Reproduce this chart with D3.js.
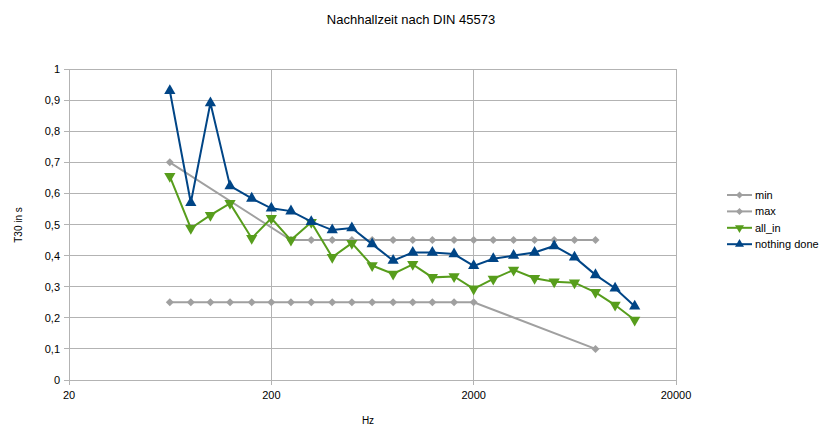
<!DOCTYPE html>
<html><head><meta charset="utf-8">
<script src="https://cdn.jsdelivr.net/npm/d3@7"></script>
<style>body{margin:0;background:#fff}svg{display:block;font-family:"Liberation Sans",Arial,sans-serif}</style>
</head><body>
<script>
const freqs = [63,80,100,125,160,200,250,315,400,500,630,800,1000,1250,1600,2000,2500,3150,4000,5000,6300,8000,10000,12500];
const minFreqs = [63,80,100,125,160,200,250,315,400,500,630,800,1000,1250,1600,2000,8000];
const minVals  = [0.25,0.25,0.25,0.25,0.25,0.25,0.25,0.25,0.25,0.25,0.25,0.25,0.25,0.25,0.25,0.25,0.1];
const maxFreqs = [63,250,315,400,500,630,800,1000,1250,1600,2000,2500,3150,4000,5000,6300,8000];
const maxVals  = [0.7,0.45,0.45,0.45,0.45,0.45,0.45,0.45,0.45,0.45,0.45,0.45,0.45,0.45,0.45,0.45,0.45];
const allIn = [0.655,0.488,0.53,0.568,0.456,0.52,0.45,0.507,0.395,0.44,0.368,0.341,0.372,0.33,0.333,0.293,0.325,0.354,0.327,0.316,0.313,0.282,0.241,0.193];
const nothingDone = [0.93,0.57,0.891,0.624,0.584,0.552,0.543,0.509,0.482,0.489,0.437,0.384,0.41,0.41,0.405,0.367,0.39,0.4,0.41,0.431,0.395,0.338,0.295,0.237];
const xTicks = [20,200,2000,20000];
const yTicks = [0,0.1,0.2,0.3,0.4,0.5,0.6,0.7,0.8,0.9,1];

const W=823,H=437;
const svg=d3.select("body").append("svg").attr("width",W).attr("height",H);
const x=d3.scaleLog().domain([20,20000]).range([69,676]);
const y=d3.scaleLinear().domain([0,1]).range([380,69]);
const grid="#b3b3b3";
const fmt=d=>String(d).replace(".",",");

// grid
svg.append("g").selectAll("line").data(yTicks).join("line")
  .attr("x1",64).attr("x2",676).attr("y1",d=>y(d)).attr("y2",d=>y(d)).attr("stroke",grid).attr("shape-rendering","crispEdges");
svg.append("g").selectAll("line").data(xTicks).join("line")
  .attr("x1",d=>x(d)).attr("x2",d=>x(d)).attr("y1",69).attr("y2",385).attr("stroke",grid).attr("shape-rendering","crispEdges");

svg.append("g").selectAll("text").data(yTicks).join("text")
  .attr("x",60).attr("y",d=>y(d)+4).attr("text-anchor","end").attr("font-size",11).attr("fill","#000").text(fmt);
svg.append("g").selectAll("text").data(xTicks).join("text")
  .attr("x",d=>x(d)).attr("y",399).attr("text-anchor","middle").attr("font-size",11).attr("fill","#000").text(d=>d);

svg.append("text").attr("x",411).attr("y",24).attr("text-anchor","middle").attr("font-size",13).text("Nachhallzeit nach DIN 45573");
svg.append("text").attr("x",368).attr("y",424).attr("text-anchor","middle").attr("font-size",10).text("Hz");
svg.append("text").attr("transform","translate(22,225) rotate(-90)").attr("text-anchor","middle").attr("font-size",10).text("T30 in s");

const gray="#a0a0a0", green="#579d1c", blue="#004586";
const diamondPath=r=>`M0,${-r}L${r},0L0,${r}L${-r},0Z`;
const triUp=d3.symbol().type(d3.symbolTriangle).size(55);

function series(fx, vals, color, kind){
  const pts=fx.map((f,i)=>[x(f),y(vals[i])]);
  svg.append("path").attr("d",d3.line()(pts)).attr("fill","none").attr("stroke",color).attr("stroke-width",2);
  svg.append("g").selectAll("path").data(pts).join("path")
    .attr("d",kind==="d"?diamondPath(4):triUp)
    .attr("transform",p=>`translate(${p[0]},${p[1]})`+(kind==="down"?" rotate(180)":""))
    .attr("fill",color);
}
series(minFreqs,minVals,gray,"d");
series(maxFreqs,maxVals,gray,"d");
series(freqs,allIn,green,"down");
series(freqs,nothingDone,blue,"up");

const legend=[["min",gray,"d"],["max",gray,"d"],["all_in",green,"down"],["nothing done",blue,"up"]];
const lg=svg.append("g").selectAll("g").data(legend).join("g").attr("transform",(d,i)=>`translate(0,${195+i*16.4})`);
lg.append("line").attr("x1",727).attr("x2",752).attr("stroke",d=>d[1]).attr("stroke-width",2);
lg.append("path").attr("d",d=>d[2]==="d"?diamondPath(3.5):d3.symbol().type(d3.symbolTriangle).size(35)())
  .attr("transform",d=>"translate(739.5,0)"+(d[2]==="down"?" rotate(180)":"")).attr("fill",d=>d[1]);
lg.append("text").attr("x",755).attr("y",4).attr("font-size",11).text(d=>d[0]);
</script>
</body></html>
